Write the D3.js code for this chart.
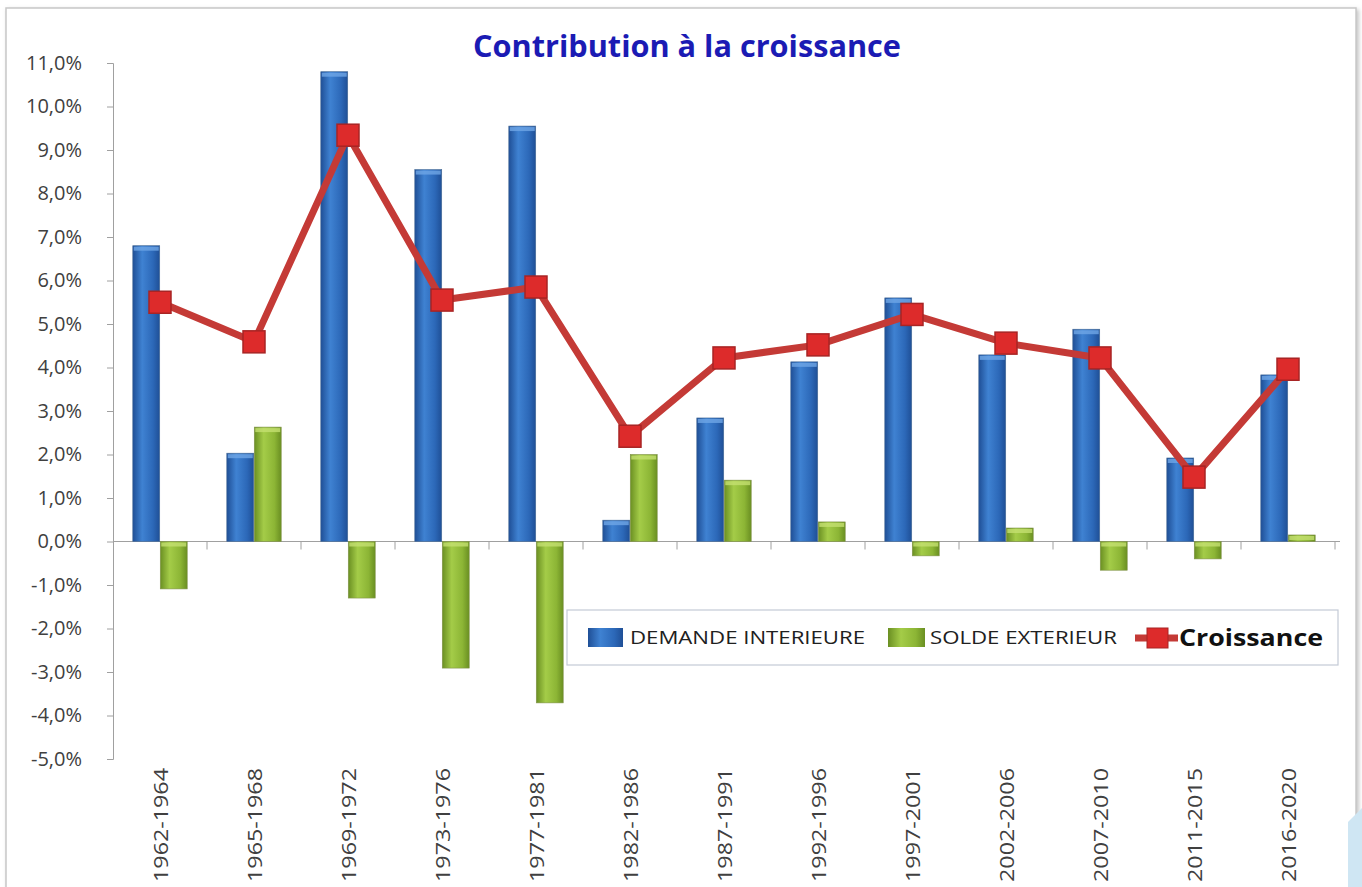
<!DOCTYPE html>
<html>
<head>
<meta charset="utf-8">
<script src="https://cdn.jsdelivr.net/npm/d3@7"></script>
<style>
  html, body { margin: 0; padding: 0; background: #fff; }
  svg { display: block; }
</style>
</head>
<body>
<div id="chart"></div>
<script>
// données (en %)
var periods = ["1962-1964", "1965-1968", "1969-1972", "1973-1976", "1977-1981", "1982-1986",
  "1987-1991", "1992-1996", "1997-2001", "2002-2006", "2007-2010", "2011-2015", "2016-2020"];
var demandeInterieure = [6.8, 2.03, 10.8, 8.55, 9.55, 0.49, 2.84, 4.13, 5.6, 4.29, 4.88, 1.92, 3.83];
var soldeExterieur = [-1.09, 2.63, -1.3, -2.91, -3.71, 2.0, 1.41, 0.45, -0.33, 0.31, -0.66, -0.4, 0.15];
var croissance = [5.5, 4.59, 9.34, 5.55, 5.85, 2.42, 4.22, 4.52, 5.22, 4.56, 4.22, 1.48, 3.96];
var yTicks = [-5, -4, -3, -2, -1, 0, 1, 2, 3, 4, 5, 6, 7, 8, 9, 10, 11];

var width = 1362, height = 887;
var margin = { top: 63, right: 27, bottom: 128, left: 113 };
var font = "'Open Sans', 'Liberation Sans', sans-serif";

var svg = d3.select("#chart").append("svg")
  .attr("width", width)
  .attr("height", height);

var defs = svg.append("defs");

function barGradient(id, dark, mid, light) {
  var g = defs.append("linearGradient").attr("id", id)
    .attr("x1", "0%").attr("x2", "100%").attr("y1", "0%").attr("y2", "0%");
  g.append("stop").attr("offset", "0%").attr("stop-color", dark);
  g.append("stop").attr("offset", "35%").attr("stop-color", light);
  g.append("stop").attr("offset", "75%").attr("stop-color", mid);
  g.append("stop").attr("offset", "100%").attr("stop-color", dark);
}
barGradient("gBlue", "#1f4f96", "#2c68b8", "#3f82d2");
barGradient("gGreen", "#6a8f22", "#8cb535", "#a4cc48");

var shadow = defs.append("filter").attr("id", "frameShadow")
  .attr("x", "-2%").attr("y", "-2%").attr("width", "104%").attr("height", "104%");
shadow.append("feDropShadow").attr("dx", 2).attr("dy", 2).attr("stdDeviation", 2)
  .attr("flood-color", "#999").attr("flood-opacity", 0.6);

// cadre du graphique
svg.append("rect")
  .attr("x", 6).attr("y", 8)
  .attr("width", 1350).attr("height", 900)
  .attr("fill", "#fff")
  .attr("stroke", "#c8c8c8")
  .attr("stroke-width", 1.5)
  .attr("filter", "url(#frameShadow)");

// petite forme décorative en bas à droite
svg.append("path")
  .attr("d", "M1348,822 L1362,808 L1362,887 L1348,887 Z")
  .attr("fill", "#cfe6f3");

var x = d3.scaleBand()
  .domain(periods)
  .range([margin.left, width - margin.right]);

var xInner = d3.scaleBand()
  .domain(["demande", "solde"])
  .range([0, x.bandwidth()])
  .paddingInner(0.02)
  .paddingOuter(0.72);

var y = d3.scaleLinear()
  .domain([-5, 11])
  .range([height - margin.bottom, margin.top]);

// titre
svg.append("text")
  .attr("x", 687).attr("y", 57)
  .attr("text-anchor", "middle")
  .attr("font-family", font)
  .attr("font-weight", "bold")
  .attr("font-size", 30)
  .attr("textLength", 428)
  .attr("lengthAdjust", "spacingAndGlyphs")
  .attr("fill", "#1b1bb4")
  .text("Contribution à la croissance");

// axe Y
var yAxis = svg.append("g")
  .attr("transform", "translate(" + margin.left + ",0)")
  .call(d3.axisLeft(y)
    .tickValues(yTicks)
    .tickSize(6)
    .tickPadding(25)
    .tickFormat(function(d) { return d3.format(".1f")(d).replace("−", "-").replace(".", ",") + "%"; }));
yAxis.select(".domain").attr("stroke", "#a0a0a0");
yAxis.selectAll(".tick line").attr("stroke", "#a0a0a0");
yAxis.selectAll(".tick text")
  .attr("font-family", font)
  .attr("font-size", 20)
  .attr("fill", "#404040");

// axe X sur la ligne zéro
var xAxis = svg.append("g")
  .attr("transform", "translate(0," + y(0) + ")");
xAxis.append("line")
  .attr("x1", margin.left).attr("x2", width - margin.right + 5)
  .attr("stroke", "#a0a0a0");
xAxis.selectAll("line.sep")
  .data(periods)
  .enter().append("line")
  .attr("class", "sep")
  .attr("x1", function(d) { return x(d) + x.bandwidth(); })
  .attr("x2", function(d) { return x(d) + x.bandwidth(); })
  .attr("y1", 0).attr("y2", 8)
  .attr("stroke", "#a0a0a0");

// libellés des périodes
svg.append("g").selectAll("text")
  .data(periods)
  .enter().append("text")
  .attr("transform", function(d) {
    return "translate(" + (x(d) + x.bandwidth() / 2 + 8) + ",768) rotate(-90)";
  })
  .attr("text-anchor", "end")
  .attr("font-family", font)
  .attr("font-size", 20)
  .attr("textLength", 114)
  .attr("lengthAdjust", "spacingAndGlyphs")
  .attr("fill", "#404040")
  .text(function(d) { return d; });

// barres
function drawBars(values, key, fill, capColor) {
  var g = svg.append("g");
  var rows = periods.map(function(p, i) { return { p: p, v: values[i] }; });
  g.selectAll("rect.bar")
    .data(rows)
    .enter().append("rect")
    .attr("class", "bar")
    .attr("x", function(d) { return x(d.p) + xInner(key); })
    .attr("width", xInner.bandwidth())
    .attr("y", function(d) { return y(Math.max(0, d.v)); })
    .attr("height", function(d) { return Math.abs(y(d.v) - y(0)); })
    .attr("fill", fill)
    .attr("stroke", d3.color(capColor).darker(1.2))
    .attr("stroke-width", 0.6);
  g.selectAll("rect.cap")
    .data(rows)
    .enter().append("rect")
    .attr("class", "cap")
    .attr("x", function(d) { return x(d.p) + xInner(key) + 1; })
    .attr("width", xInner.bandwidth() - 2)
    .attr("y", function(d) { return d.v >= 0 ? y(d.v) + 1 : y(0) + 1; })
    .attr("height", function(d) { return Math.min(4, Math.abs(y(d.v) - y(0)) - 1); })
    .attr("fill", capColor)
    .attr("opacity", 0.8);
}
drawBars(demandeInterieure, "demande", "url(#gBlue)", "#6fa6e6");
drawBars(soldeExterieur, "solde", "url(#gGreen)", "#c4e070");

// courbe croissance
var line = d3.line()
  .x(function(d, i) { return x(periods[i]) + x.bandwidth() / 2; })
  .y(function(d) { return y(d); });

svg.append("path")
  .datum(croissance)
  .attr("d", line)
  .attr("fill", "none")
  .attr("stroke", "#c43a36")
  .attr("stroke-width", 7)
  .attr("stroke-linejoin", "round");

var markerSize = 22;
svg.append("g").selectAll("rect")
  .data(croissance)
  .enter().append("rect")
  .attr("x", function(d, i) { return x(periods[i]) + x.bandwidth() / 2 - markerSize / 2; })
  .attr("y", function(d) { return y(d) - markerSize / 2; })
  .attr("width", markerSize).attr("height", markerSize)
  .attr("fill", "#dd2b2b")
  .attr("stroke", "#a82424")
  .attr("stroke-width", 1.5);

// légende
var legend = svg.append("g");
legend.append("rect")
  .attr("x", 567).attr("y", 610)
  .attr("width", 771).attr("height", 55)
  .attr("fill", "#fff")
  .attr("stroke", "#c4cad6")
  .attr("stroke-width", 1.2);

legend.append("rect")
  .attr("x", 588).attr("y", 628).attr("width", 35).attr("height", 19)
  .attr("fill", "url(#gBlue)");
legend.append("text")
  .attr("x", 630).attr("y", 644)
  .attr("font-family", font)
  .attr("font-size", 19)
  .attr("textLength", 235)
  .attr("lengthAdjust", "spacingAndGlyphs")
  .attr("fill", "#202020")
  .text("DEMANDE INTERIEURE");

legend.append("rect")
  .attr("x", 888).attr("y", 628).attr("width", 37).attr("height", 19)
  .attr("fill", "url(#gGreen)");
legend.append("text")
  .attr("x", 930).attr("y", 644)
  .attr("font-family", font)
  .attr("font-size", 19)
  .attr("textLength", 187)
  .attr("lengthAdjust", "spacingAndGlyphs")
  .attr("fill", "#202020")
  .text("SOLDE EXTERIEUR");

legend.append("line")
  .attr("x1", 1135).attr("x2", 1178).attr("y1", 638).attr("y2", 638)
  .attr("stroke", "#c43a36").attr("stroke-width", 7);
legend.append("rect")
  .attr("x", 1147).attr("y", 628).attr("width", 21).attr("height", 20)
  .attr("fill", "#dd2b2b").attr("stroke", "#a82424");
legend.append("text")
  .attr("x", 1179).attr("y", 646)
  .attr("font-family", font)
  .attr("font-weight", "bold")
  .attr("font-size", 24)
  .attr("textLength", 144)
  .attr("lengthAdjust", "spacingAndGlyphs")
  .attr("fill", "#111")
  .text("Croissance");
</script>
</body>
</html>
